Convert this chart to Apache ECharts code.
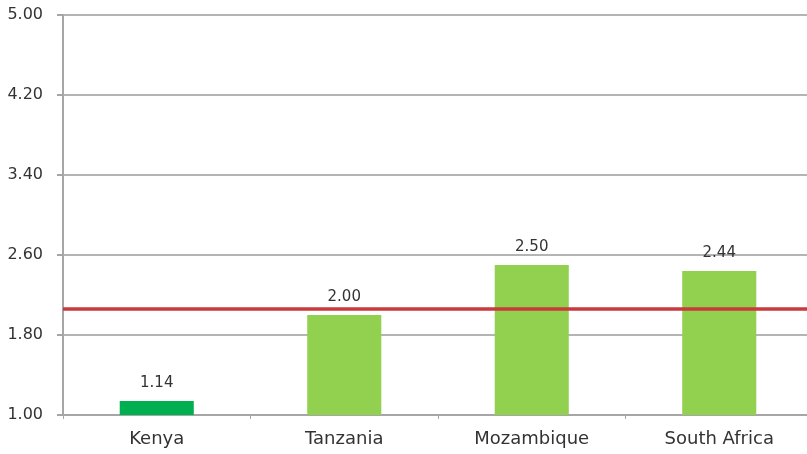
<!DOCTYPE html>
<html>
<head>
<meta charset="utf-8">
<script src="https://cdn.jsdelivr.net/npm/echarts@6/dist/echarts.min.js"></script>
<style>
  html, body { margin: 0; padding: 0; background: #fff; overflow: hidden; width: 807px; height: 454px; }
  /* the drawing surface is a little wider than the window so the plot runs past the right edge */
  #chart { width: 813px; height: 454px; }
</style>
</head>
<body>
<div id="chart"></div>
<script>
// Country scores with a reference threshold line
const categories = ['Kenya', 'Tanzania', 'Mozambique', 'South Africa'];
const scores = [1.14, 2.00, 2.50, 2.44];
const barColors = ['#00b050', '#92d050', '#92d050', '#92d050'];
const threshold = 2.06;
const yTicks = [1.00, 1.80, 2.60, 3.40, 4.20, 5.00];

const chart = echarts.init(document.getElementById('chart'), null, { renderer: 'canvas' });

chart.setOption({
  animation: false,
  backgroundColor: '#ffffff',
  grid: { left: 63, right: 0, top: 15, bottom: 39, containLabel: false },
  xAxis: {
    type: 'category',
    data: categories,
    axisLine: { lineStyle: { color: '#a6a6a6', width: 2 } },
    axisTick: { show: true, length: 4, alignWithLabel: false, lineStyle: { color: '#a6a6a6' } },
    axisLabel: { color: '#333', fontFamily: 'DejaVu Sans', fontSize: 18, margin: 15 }
  },
  yAxis: {
    type: 'value',
    min: yTicks[0],
    max: yTicks[yTicks.length - 1],
    interval: 0.8,
    axisLine: { show: true, lineStyle: { color: '#a6a6a6', width: 2 } },
    axisTick: { show: true, length: 6, lineStyle: { color: '#a6a6a6', width: 2 } },
    splitLine: { lineStyle: { color: '#b4b4b4', width: 2 } },
    axisLabel: {
      color: '#333', fontFamily: 'DejaVu Sans', fontSize: 16, margin: 20,
      formatter: v => v.toFixed(2)
    }
  },
  series: [{
    type: 'bar',
    data: scores.map((v, i) => ({ value: v, itemStyle: { color: barColors[i] } })),
    barWidth: '39.5%',
    label: {
      show: true, position: 'top', distance: 10,
      color: '#333', fontFamily: 'DejaVu Sans', fontSize: 15,
      formatter: p => p.value.toFixed(2)
    },
    markLine: {
      silent: true,
      symbol: 'none',
      label: { show: false },
      lineStyle: { color: '#c93a3c', width: 3.5, type: 'solid' },
      data: [{ yAxis: threshold }]
    },
    z: 2
  }]
});
</script>
</body>
</html>
